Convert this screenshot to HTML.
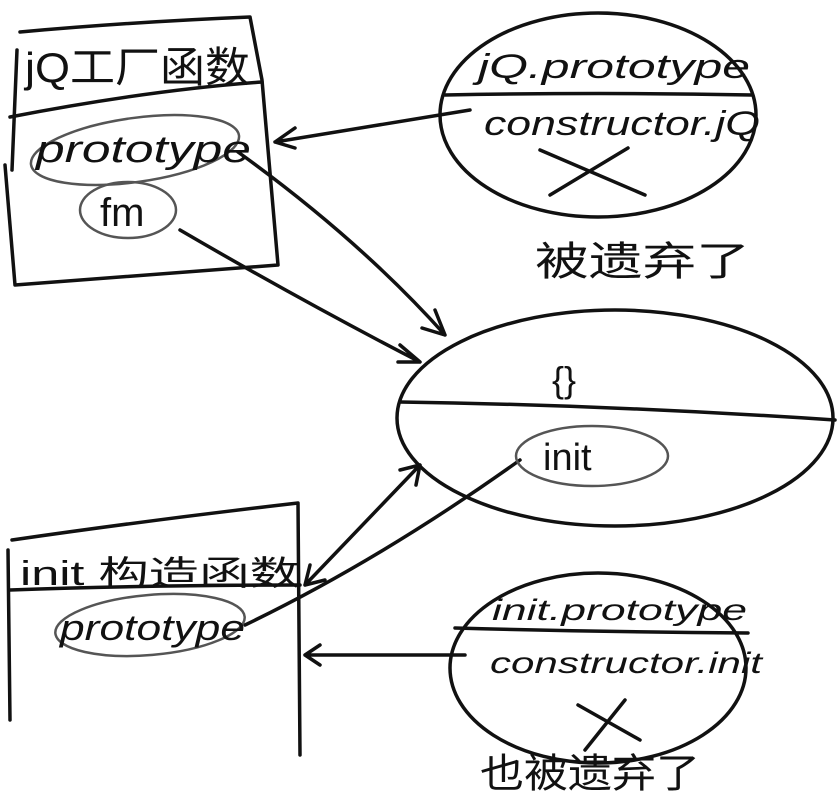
<!DOCTYPE html>
<html><head><meta charset="utf-8"><style>
html,body{margin:0;padding:0;background:#fff;width:839px;height:803px;overflow:hidden}
svg text{font-family:"Liberation Sans","Noto Sans CJK SC",sans-serif;fill:#111}
</style></head><body>
<svg width="839" height="803" viewBox="0 0 839 803" xmlns="http://www.w3.org/2000/svg">
<g fill="none" stroke="#111" stroke-width="3.5" stroke-linecap="round" stroke-linejoin="round">
<path d="M20 32 Q130 22 250 17 L262 80 L278 265 L15 285 L5 165"/>
<path d="M17 50 L12 170"/>
<path d="M10 117 Q150 90 262 82"/>
<ellipse cx="598" cy="115" rx="158" ry="102"/>
<path d="M445 95 Q600 92 752 95"/>
<path d="M540 150 L645 195 M550 195 L628 148"/>
<ellipse cx="615" cy="418" rx="218" ry="108"/>
<path d="M400 402 Q610 405 835 420"/>
<path d="M12 540 Q150 520 298 503 L300 755 M8 550 L10 720"/>
<path d="M10 590 Q150 585 300 585"/>
<ellipse cx="598" cy="668" rx="148" ry="95"/>
<path d="M455 628 Q600 632 748 633"/>
<path d="M578 705 L640 740 M585 750 L625 700"/>
<path d="M470 110 Q380 125 275 142 M295 128 L275 142 L295 148"/>
<path d="M238 152 Q360 240 445 335 M435 310 L445 335 L422 328"/>
<path d="M180 230 Q300 300 420 362 M400 345 L420 362 L398 362"/>
<path d="M305 585 L420 465 M400 470 L420 465 L416 485 M305 585 L310 565 M305 585 L325 580"/>
<path d="M520 460 Q380 560 245 625"/>
<path d="M465 655 L305 655 M320 645 L305 655 L320 665"/>
</g>
<g fill="none" stroke="#555" stroke-width="2.5">
<ellipse cx="135" cy="150" rx="105" ry="32" transform="rotate(-8 135 150)"/>
<ellipse cx="128" cy="210" rx="48" ry="28"/>
<ellipse cx="592" cy="456" rx="76" ry="30"/>
<ellipse cx="150" cy="625" rx="95" ry="30" transform="rotate(-5 150 625)"/>
</g>
<g>
<text x="25" y="82" font-size="42" textLength="225" lengthAdjust="spacingAndGlyphs">jQ工厂函数</text>
<text x="36" y="162" font-style="italic" font-size="38" textLength="215" lengthAdjust="spacingAndGlyphs">prototype</text>
<text x="100" y="226" font-size="40">fm</text>
<text x="478" y="78" font-size="34" font-style="italic" textLength="272" lengthAdjust="spacingAndGlyphs">jQ.prototype</text>
<text x="484" y="135" font-size="34" font-style="italic" textLength="276" lengthAdjust="spacingAndGlyphs">constructor.jQ</text>
<text x="535" y="275" font-size="40" textLength="215" lengthAdjust="spacingAndGlyphs">被遗弃了</text>
<text x="552" y="392" font-size="36">{}</text>
<text x="543" y="470" font-size="38">init</text>
<text x="20" y="585" font-size="34" textLength="280" lengthAdjust="spacingAndGlyphs">init 构造函数</text>
<text x="60" y="640" font-size="36" font-style="italic" textLength="185" lengthAdjust="spacingAndGlyphs">prototype</text>
<text x="492" y="620" font-size="30" font-style="italic" textLength="255" lengthAdjust="spacingAndGlyphs">init.prototype</text>
<text x="490" y="673" font-size="30" font-style="italic" textLength="272" lengthAdjust="spacingAndGlyphs">constructor.init</text>
<text x="480" y="787" font-size="40" textLength="220" lengthAdjust="spacingAndGlyphs">也被遗弃了</text>
</g>
</svg>
</body></html>
